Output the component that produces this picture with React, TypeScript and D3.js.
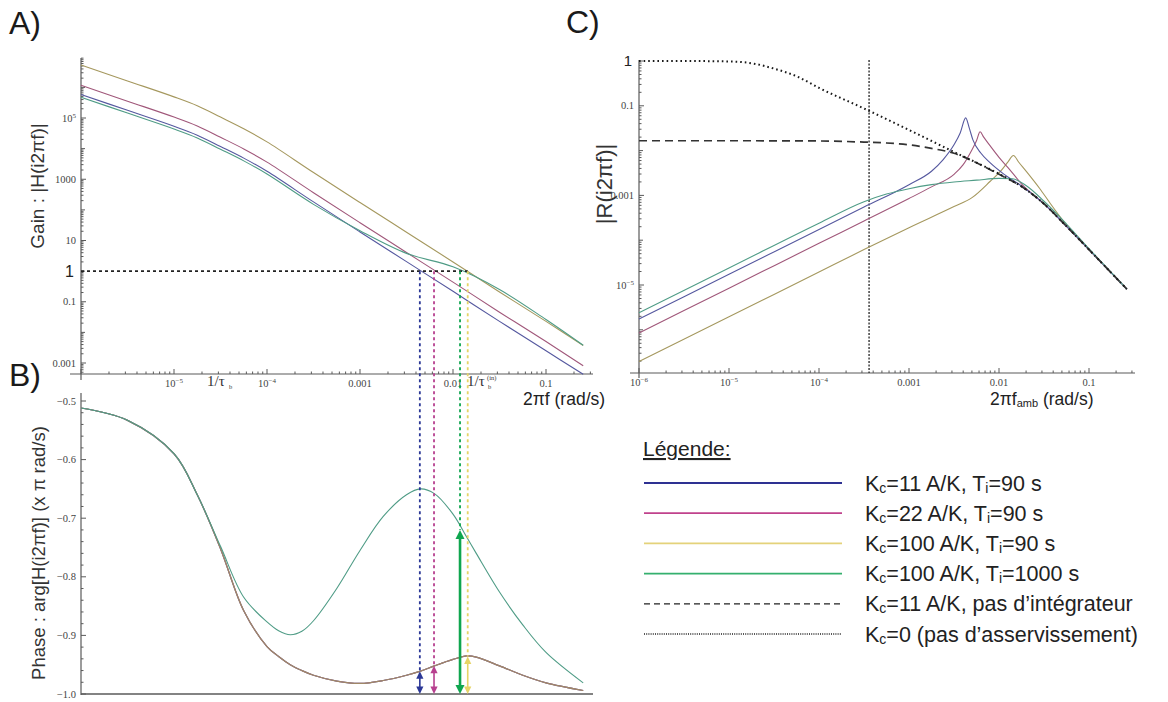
import React from "react";
import * as d3 from "d3";

// ---------- Panel A : gain |H(i2πf)|, log10 values ----------
const freqLogA = [-6, -5.5, -5, -4.75, -4.5, -4.25, -4, -3.5, -3, -2.5, -2, -1.5, -1, -0.6];
const gainLogKc11Ti90 = [5.77, 5.25, 4.73, 4.44, 4.07, 3.69, 3.26, 2.26, 1.28, 0.31, -0.66, -1.64, -2.6, -3.37];
const gainLogKc22Ti90 = [6.07, 5.55, 5.03, 4.74, 4.37, 3.99, 3.56, 2.56, 1.58, 0.61, -0.36, -1.34, -2.3, -3.09];
const gainLogKc100Ti90 = [6.73, 6.21, 5.69, 5.4, 5.03, 4.65, 4.22, 3.22, 2.24, 1.27, 0.3, -0.68, -1.64, -2.43];
const gainLogKc100Ti1000 = [5.68, 5.16, 4.64, 4.35, 3.98, 3.6, 3.17, 2.18, 1.32, 0.58, 0.14, -0.6, -1.58, -2.42];

// ---------- Panel B : phase (× π) ----------
const freqLogB = [-6, -5.5, -5, -4.75, -4.5, -4.25, -4, -3.875, -3.75, -3.625, -3.5, -3.25, -3, -2.75, -2.5, -2.35, -2.2, -2, -1.85, -1.75, -1.5, -1.25, -1, -0.6];
const phaseTi90 = [-0.512, -0.533, -0.59, -0.66, -0.752, -0.858, -0.919, -0.936, -0.95, -0.96, -0.968, -0.978, -0.982, -0.977, -0.968, -0.961, -0.952, -0.941, -0.935, -0.937, -0.952, -0.968, -0.981, -0.994];
const phaseTi1000 = [-0.512, -0.533, -0.59, -0.66, -0.748, -0.835, -0.877, -0.892, -0.899, -0.893, -0.875, -0.82, -0.755, -0.697, -0.66, -0.65, -0.658, -0.693, -0.733, -0.76, -0.826, -0.882, -0.929, -0.981];

// crossover frequencies (|H| = 1) and phase there
const crossFreq = [0.0044, 0.00625, 0.0119, 0.0144];
const crossPhase = [-0.961, -0.952, -0.72, -0.936];

// ---------- Panel C : |R(i2πf)|, log10 values ----------
const dottedL = [-6, -5.5, -5, -4.75, -4.5, -4.25, -4, -3.5, -3, -2.5, -2, -1.75, -1.5, -1.25, -1, -0.8, -0.58];
const dottedV = [0, 0, -0.01, -0.05, -0.17, -0.34, -0.6, -1.06, -1.54, -2.03, -2.52, -2.8, -3.19, -3.69, -4.21, -4.63, -5.09];
const dashedL = [-6, -5, -4, -3.5, -3.25, -3, -2.75, -2.5, -2.25, -2, -1.75, -1.5, -1.25, -1, -0.8, -0.58];
const dashedV = [-1.78, -1.78, -1.785, -1.81, -1.83, -1.87, -1.95, -2.06, -2.27, -2.53, -2.8, -3.19, -3.69, -4.21, -4.63, -5.09];
const greenCL = [-6, -5, -4, -3.5, -3.25, -3, -2.75, -2.5, -2.25, -2, -1.85, -1.7, -1.5, -1.25, -1, -0.8, -0.58];
const greenCV = [-5.62, -4.62, -3.62, -3.14, -2.97, -2.85, -2.76, -2.7, -2.66, -2.62, -2.63, -2.78, -3.13, -3.64, -4.19, -4.62, -5.09];
const blueCL = [-6, -5, -4, -3.5, -3, -2.75, -2.62, -2.5, -2.43, -2.37, -2.33, -2.29, -2.2, -2.1, -1.95, -1.75, -1.5, -1.25, -1, -0.8, -0.58];
const blueCV = [-5.76, -4.76, -3.76, -3.26, -2.76, -2.46, -2.2, -1.87, -1.6, -1.27, -1.5, -1.76, -2.06, -2.27, -2.52, -2.79, -3.19, -3.69, -4.21, -4.63, -5.09];
const redCL = [-6, -5, -4, -3.5, -3, -2.75, -2.5, -2.4, -2.3, -2.25, -2.21, -2.17, -2.1, -2.0, -1.9, -1.75, -1.5, -1.25, -1, -0.8, -0.58];
const redCV = [-6.07, -5.07, -4.07, -3.57, -3.07, -2.81, -2.53, -2.32, -1.98, -1.78, -1.58, -1.7, -1.89, -2.15, -2.38, -2.74, -3.19, -3.69, -4.21, -4.63, -5.09];
const oliveCL = [-6, -5, -4, -3.5, -3, -2.5, -2.3, -2.1, -1.97, -1.9, -1.84, -1.78, -1.69, -1.55, -1.43, -1.25, -1, -0.8, -0.58];
const oliveCV = [-6.71, -5.71, -4.71, -4.21, -3.72, -3.25, -3.05, -2.69, -2.43, -2.25, -2.11, -2.26, -2.48, -2.84, -3.18, -3.66, -4.21, -4.63, -5.09];
const cornerFreqC = 3.6e-4;

// ---------- legend ----------
const legendLabels = [
  "K_c=11 A/K, T_i=90 s",
  "K_c=22 A/K, T_i=90 s",
  "K_c=100 A/K, T_i=90 s",
  "K_c=100 A/K, T_i=1000 s",
  "K_c=11 A/K, pas d\u2019intégrateur",
  "K_c=0 (pas d\u2019asservissement)",
];

const SANS = "'Liberation Sans', Arial, Helvetica, sans-serif";
const SERIF = "'Liberation Serif', 'Times New Roman', serif";
const AX = "#5a5a5a";

const C_BLUE = "#55589f";
const C_RED = "#a0577a";
const C_OLIVE = "#a5985e";
const C_GREEN = "#4f9c86";
const crossColors = ["#2b3796", "#b7408f", "#0fa64f", "#e6d466"];
const legendColors = ["#2e3192", "#c0428c", "#e4d27a", "#35b06e", "#222", "#222"];
const legendDash = [null, null, null, null, "6,4", "1,1.2"];

const xA = d3.scaleLog().domain([1e-6, 1]).range([81, 639]);
const yA = d3.scaleLog().domain([1e-3, 1e5]).range([363, 118]);
const yB = d3.scaleLinear().domain([-1, -0.5]).range([694, 401]);
const xC = d3.scaleLog().domain([1e-6, 1]).range([639, 1179]);
const yC = d3.scaleLog().domain([1e-5, 1]).range([285, 61]);

function pathLog(xs: any, ys: any, L: number[], V: number[], curve: any) {
  return (
    d3
      .line<number>()
      .x((_, i) => xs(Math.pow(10, L[i])))
      .y((_, i) => ys(Math.pow(10, V[i])))
      .curve(curve)(L) || ""
  );
}
function pathPhase(L: number[], V: number[]) {
  return (
    d3
      .line<number>()
      .x((_, i) => xA(Math.pow(10, L[i])))
      .y((_, i) => yB(V[i]))
      .curve(d3.curveCatmullRom.alpha(0.5))(L) || ""
  );
}

function logTicks(lo: number, hi: number) {
  const out: { v: number; m: number; k: number }[] = [];
  for (let k = Math.floor(Math.log10(lo)); k <= Math.ceil(Math.log10(hi)); k++)
    for (let m = 1; m <= 9; m++) {
      const v = m * Math.pow(10, k);
      if (v >= lo * 0.999 && v <= hi * 1.001) out.push({ v, m, k });
    }
  return out;
}

function tickText(k: number) {
  if (k <= -4 || k >= 4) {
    return (
      <>
        10
        <tspan dy={-4} fontSize={7}>
          {k < 0 ? "\u2212" + -k : String(k)}
        </tspan>
      </>
    );
  }
  const s = k < 0 ? "0." + "0".repeat(-k - 1) + "1" : "1" + "0".repeat(k);
  return <>{s}</>;
}

function Rich({ label, size, sub }: { label: string; size: number; sub: number }) {
  const parts = label.split(/_(\w+)/);
  return (
    <>
      {parts.map((p, i) =>
        i % 2 === 1 ? (
          <tspan key={i} fontSize={sub} dy={2}>
            {p}
          </tspan>
        ) : (
          <tspan key={i} dy={i === 0 ? 0 : -2} fontSize={size}>
            {p}
          </tspan>
        )
      )}
    </>
  );
}

function Arrow({ x, y1, y2, color, w }: { x: number; y1: number; y2: number; color: string; w: number }) {
  const hw = w > 2 ? 4.5 : 3.6;
  const hl = w > 2 ? 9 : 7.5;
  return (
    <g>
      <line x1={x} x2={x} y1={y1 + hl - 1} y2={y2 - hl + 1} stroke={color} strokeWidth={w} />
      <polygon points={`${x},${y1} ${x - hw},${y1 + hl} ${x + hw},${y1 + hl}`} fill={color} />
      <polygon points={`${x},${y2} ${x - hw},${y2 - hl} ${x + hw},${y2 - hl}`} fill={color} />
    </g>
  );
}

export default function App() {
  const aXTicks = logTicks(1e-6, 0.3);
  const aYTicks = logTicks(5e-4, 9e6).filter((t) => yA(t.v) >= 58 && yA(t.v) <= 374);
  const aYLabeled = [5, 3, 1, -1, -3];
  const cXTicks = logTicks(1e-6, 0.3);
  const cYTicks = logTicks(1e-7, 1).filter((t) => yC(t.v) >= 59 && yC(t.v) <= 374);
  const cYLabeled = [-1, -3, -5];
  const bTicks = d3.range(0, 26).map((i) => -1 + i * 0.02);
  const smooth = d3.curveCatmullRom.alpha(0.5);
  const mono = d3.curveMonotoneX;

  const yOne = yA(1);

  return (
    <svg
      width={1168}
      height={702}
      style={{ position: "absolute", left: 0, top: 0, display: "block", background: "#fff" }}
    >
      {/* panel letters */}
      <text x={9} y={34} fontFamily={SANS} fontSize={32} fill="#1a1a1a">A)</text>
      <text x={9} y={386} fontFamily={SANS} fontSize={32} fill="#1a1a1a">B)</text>
      <text x={566} y={33} fontFamily={SANS} fontSize={32} fill="#1a1a1a">C)</text>

      {/* ================= Panel A ================= */}
      <line x1={70} x2={593} y1={374} y2={374} stroke={AX} strokeWidth={1.2} />
      <line x1={81} x2={81} y1={58} y2={380} stroke={AX} strokeWidth={1.2} />
      {aXTicks.map((t, i) => (
        <line key={"ax" + i} x1={xA(t.v)} x2={xA(t.v)} y1={374} y2={374 - (t.m === 1 ? 5 : 2.5)} stroke={AX} strokeWidth={1} />
      ))}
      {[-5, -4, -3, -2, -1].map((k) => (
        <text key={"axl" + k} x={xA(Math.pow(10, k))} y={387} textAnchor="middle" fontFamily={SERIF} fontSize={10.5} fill="#444">
          {tickText(k)}
        </text>
      ))}
      {aYTicks.map((t, i) => (
        <line key={"ay" + i} x1={81} x2={81 + (t.m === 1 ? (aYLabeled.includes(t.k) ? 5 : 4) : 2.5)} y1={yA(t.v)} y2={yA(t.v)} stroke={AX} strokeWidth={1} />
      ))}
      {aYLabeled.map((k) => (
        <text key={"ayl" + k} x={76} y={yA(Math.pow(10, k))} dy="0.35em" textAnchor="end" fontFamily={SERIF} fontSize={10.5} fill="#444">
          {tickText(k)}
        </text>
      ))}
      <text x={74} y={yOne} dy="0.36em" textAnchor="end" fontFamily={SANS} fontSize={16} fill="#222">1</text>
      <text transform="translate(44,186) rotate(-90)" textAnchor="middle" fontFamily={SANS} fontSize={19} fill="#333">
        Gain : |H(i2πf)|
      </text>

      <path d={pathLog(xA, yA, freqLogA, gainLogKc100Ti90, smooth)} fill="none" stroke={C_OLIVE} strokeWidth={1.1} />
      <path d={pathLog(xA, yA, freqLogA, gainLogKc22Ti90, smooth)} fill="none" stroke={C_RED} strokeWidth={1.1} />
      <path d={pathLog(xA, yA, freqLogA, gainLogKc11Ti90, smooth)} fill="none" stroke={C_BLUE} strokeWidth={1.1} />
      <path d={pathLog(xA, yA, freqLogA, gainLogKc100Ti1000, smooth)} fill="none" stroke={C_GREEN} strokeWidth={1.1} />

      {/* 1/τb labels */}
      <text x={207} y={386} fontFamily={SERIF} fontSize={15} fill="#333">1/τ</text>
      <text x={229} y={389} fontFamily={SERIF} fontSize={6.5} fill="#333">b</text>
      <text x={467} y={386} fontFamily={SERIF} fontSize={15} fill="#333">1/τ</text>
      <text x={488} y={389} fontFamily={SERIF} fontSize={6.5} fill="#333">b</text>
      <text x={487} y={380} fontFamily={SERIF} fontSize={6.5} fill="#333">(in)</text>
      <text x={523} y={405} fontFamily={SANS} fontSize={17.5} fill="#222">2πf (rad/s)</text>

      {/* ================= Panel B ================= */}
      <line x1={81} x2={593} y1={694} y2={694} stroke={AX} strokeWidth={1.4} />
      <line x1={81} x2={81} y1={393} y2={695} stroke={AX} strokeWidth={1.2} />
      {bTicks.map((v, i) => (
        <line key={"by" + i} x1={81} x2={81 + (i % 5 === 0 ? 5 : 2.5)} y1={yB(v)} y2={yB(v)} stroke={AX} strokeWidth={1} />
      ))}
      {[-1, -0.9, -0.8, -0.7, -0.6, -0.5].map((v) => (
        <text key={"byl" + v} x={76} y={yB(v)} dy="0.35em" textAnchor="end" fontFamily={SERIF} fontSize={10.5} fill="#444">
          {"\u2212" + Math.abs(v).toFixed(1)}
        </text>
      ))}
      <text transform="translate(45,553) rotate(-90)" textAnchor="middle" fontFamily={SANS} fontSize={18.5} fill="#333">
        Phase : arg[H(i2πf)] (x π rad/s)
      </text>

      <path d={pathPhase(freqLogB, phaseTi90)} fill="none" stroke={C_BLUE} strokeWidth={1.2} />
      <path d={pathPhase(freqLogB, phaseTi90)} fill="none" stroke={C_RED} strokeWidth={1.2} opacity={0.8} />
      <path d={pathPhase(freqLogB, phaseTi90)} fill="none" stroke={C_OLIVE} strokeWidth={1.2} opacity={0.75} />
      <path d={pathPhase(freqLogB, phaseTi1000)} fill="none" stroke={C_GREEN} strokeWidth={1.1} />

      {/* gain=1 line and crossover markers */}
      <line x1={81} x2={xA(crossFreq[3])} y1={yOne} y2={yOne} stroke="#222" strokeWidth={1.6} strokeDasharray="3,3" />
      {crossFreq.map((f, i) => (
        <line key={"cv" + i} x1={xA(f)} x2={xA(f)} y1={yOne} y2={yB(crossPhase[i])} stroke={crossColors[i]} strokeWidth={1.8} strokeDasharray="3,3" />
      ))}
      {crossFreq.map((f, i) => (
        <Arrow key={"ar" + i} x={xA(f)} y1={yB(crossPhase[i])} y2={yB(-1)} color={crossColors[i]} w={i === 2 ? 2.6 : 1.6} />
      ))}

      {/* ================= Panel C ================= */}
      <line x1={630} x2={1135} y1={373} y2={373} stroke={AX} strokeWidth={1.2} />
      <line x1={639} x2={639} y1={60} y2={378} stroke={AX} strokeWidth={1.2} />
      {cXTicks.map((t, i) => (
        <line key={"cx" + i} x1={xC(t.v)} x2={xC(t.v)} y1={373} y2={373 - (t.m === 1 ? 5 : 2.5)} stroke={AX} strokeWidth={1} />
      ))}
      {[-6, -5, -4, -3, -2, -1].map((k) => (
        <text key={"cxl" + k} x={xC(Math.pow(10, k))} y={386} textAnchor="middle" fontFamily={SERIF} fontSize={10.5} fill="#444">
          {tickText(k)}
        </text>
      ))}
      {cYTicks.map((t, i) => (
        <line key={"cy" + i} x1={639} x2={639 + (t.m === 1 ? (cYLabeled.includes(t.k) ? 5 : 4) : 2.5)} y1={yC(t.v)} y2={yC(t.v)} stroke={AX} strokeWidth={1} />
      ))}
      {cYLabeled.map((k) => (
        <text key={"cyl" + k} x={634} y={yC(Math.pow(10, k))} dy="0.35em" textAnchor="end" fontFamily={SERIF} fontSize={10.5} fill="#444">
          {tickText(k)}
        </text>
      ))}
      <text x={632} y={yC(1)} dy="0.36em" textAnchor="end" fontFamily={SANS} fontSize={15} fill="#222">1</text>
      <text transform="translate(612,184) rotate(-90)" textAnchor="middle" fontFamily={SANS} fontSize={22} fill="#333">
        |R(i2πf)|
      </text>
      <text x={990} y={405} fontFamily={SANS} fontSize={17.5} fill="#222">
        <Rich label="2πf_amb (rad/s)" size={17.5} sub={11} />
      </text>

      <line x1={xC(cornerFreqC)} x2={xC(cornerFreqC)} y1={60} y2={373} stroke="#222" strokeWidth={1.3} strokeDasharray="2,1.5" />
      <path d={pathLog(xC, yC, oliveCL, oliveCV, mono)} fill="none" stroke={C_OLIVE} strokeWidth={1.1} />
      <path d={pathLog(xC, yC, redCL, redCV, mono)} fill="none" stroke={C_RED} strokeWidth={1.1} />
      <path d={pathLog(xC, yC, blueCL, blueCV, mono)} fill="none" stroke={C_BLUE} strokeWidth={1.1} />
      <path d={pathLog(xC, yC, greenCL, greenCV, mono)} fill="none" stroke={C_GREEN} strokeWidth={1.1} />
      <path d={pathLog(xC, yC, dashedL, dashedV, mono)} fill="none" stroke="#333" strokeWidth={1.7} strokeDasharray="8,5" />
      <path d={pathLog(xC, yC, dottedL, dottedV, mono)} fill="none" stroke="#1a1a1a" strokeWidth={2} strokeDasharray="1.6,3" />

      {/* ================= Legend ================= */}
      <text x={643} y={456} fontFamily={SANS} fontSize={21} fill="#222" textDecoration="underline">
        Légende:
      </text>
      {legendLabels.map((lab, i) => {
        const y = 483 + i * 30.2;
        return (
          <g key={"lg" + i}>
            <line
              x1={644}
              x2={842}
              y1={y}
              y2={y}
              stroke={legendColors[i]}
              strokeWidth={i < 4 ? 1.8 : 1.3}
              strokeDasharray={legendDash[i] || undefined}
            />
            <text x={865} y={y + 7.5} fontFamily={SANS} fontSize={21.5} fill="#222">
              <Rich label={lab} size={21.5} sub={14} />
            </text>
          </g>
        );
      })}
    </svg>
  );
}
